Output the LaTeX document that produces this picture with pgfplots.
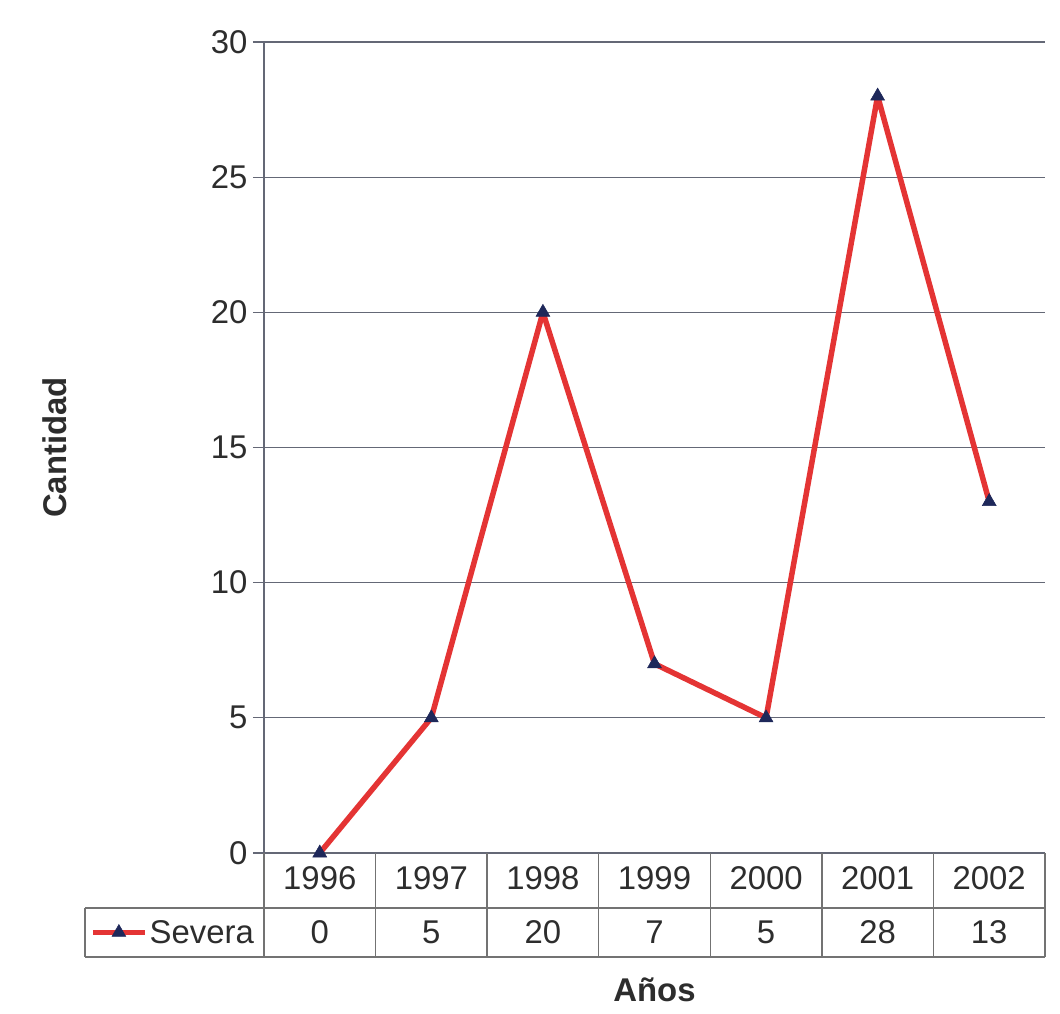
\documentclass[border=0pt]{standalone}
\usepackage{pgfplots}
\usepackage{pgfplotstable}
\pgfplotsset{compat=1.18}
\usepackage{fontspec}
\setmainfont{Liberation Sans}
\definecolor{txt}{RGB}{45,45,45}
\definecolor{gridc}{RGB}{100,104,118}
\definecolor{tablec}{RGB}{115,115,115}
\definecolor{linered}{RGB}{228,52,52}
\definecolor{marknavy}{RGB}{30,40,90}
\pgfplotstableread{
x year val
0 1996 0
1 1997 5
2 1998 20
3 1999 7
4 2000 5
5 2001 28
6 2002 13
}\datatab
\begin{document}
\begin{tikzpicture}
\begin{axis}[
  scale only axis,
  width=781bp, height=811bp,
  xmin=-0.5, xmax=6.5, ymin=0, ymax=30,
  clip=false,
  axis lines*=left,
  axis line style={gridc, line width=1.2bp},
  xtick=data,
  xticklabels={1996,1997,1998,1999,2000,2001,2002},
  xtick style={draw=none},
  xticklabel style={anchor=center, yshift=-14bp},
  ytick={0,5,...,30},
  ymajorgrids,
  major grid style={gridc, line width=1.2bp},
  tick align=outside,
  major tick length=11bp,
  ytick style={gridc, line width=1.2bp},
  yticklabel style={xshift=-2bp},
  /pgf/number format/assume math mode=true,
  tick label style={font=\fontsize{33}{39}\selectfont, text=txt},
  xlabel={\textbf{Años}},
  ylabel={\textbf{Cantidad}},
  xlabel style={at={(axis description cs:0.5,0)}, anchor=center, yshift=-137bp, font=\fontsize{33}{39}\selectfont, text=txt},
  ylabel style={at={([xshift=-209bp]axis description cs:0,0.5)}, anchor=center, font=\fontsize{33}{39}\selectfont, text=txt},
  legend style={at={(axis cs:-2.06,-2.94)}, anchor=west, draw=none, fill=none, inner sep=0pt,
    font=\fontsize{33}{39}\selectfont, text=txt, nodes={inner sep=2bp}},
  legend image code/.code={
    \draw[mark repeat=2,mark phase=2,#1]
    plot coordinates {(0bp,0bp) (26bp,0bp) (52bp,0bp)};
  },
]
\addplot[linered, line width=5.5bp, line join=round, mark=triangle*, mark size=8bp,
  mark options={solid, fill=marknavy, draw=marknavy, line width=0.5bp, line join=miter}]
  table[x=x, y=val] {\datatab};
\addlegendentry{Severa}
% table values row
\addplot[draw=none, mark=none, forget plot, nodes near coords, point meta=explicit,
  nodes near coords align=center,
  every node near coord/.append style={anchor=center, font=\fontsize{33}{39}\selectfont, text=txt,
    /pgf/number format/assume math mode=true}]
  table[x=x, y expr=-2.94, meta=val] {\datatab};
% table grid
\draw[tablec, line width=1.3bp] (axis cs:-2.104,-2.035) -- (axis cs:6.5,-2.035);
\draw[tablec, line width=1.3bp] (axis cs:-2.104,-3.85) -- (axis cs:6.5,-3.85);
\draw[tablec, line width=1.3bp] (axis cs:-2.104,-2.035) -- (axis cs:-2.104,-3.85);
\draw[tablec, line width=1.3bp] (axis cs:-0.5,0) -- (axis cs:-0.5,-3.85);
\draw[tablec, line width=1.3bp] (axis cs:0.5,0) -- (axis cs:0.5,-3.85);
\draw[tablec, line width=1.3bp] (axis cs:1.5,0) -- (axis cs:1.5,-3.85);
\draw[tablec, line width=1.3bp] (axis cs:2.5,0) -- (axis cs:2.5,-3.85);
\draw[tablec, line width=1.3bp] (axis cs:3.5,0) -- (axis cs:3.5,-3.85);
\draw[tablec, line width=1.3bp] (axis cs:4.5,0) -- (axis cs:4.5,-3.85);
\draw[tablec, line width=1.3bp] (axis cs:5.5,0) -- (axis cs:5.5,-3.85);
\draw[tablec, line width=1.3bp] (axis cs:6.5,0) -- (axis cs:6.5,-3.85);
\end{axis}
\pgfresetboundingbox
\useasboundingbox (-264bp,-161bp) rectangle (796bp,853bp);
\end{tikzpicture}
\end{document}
